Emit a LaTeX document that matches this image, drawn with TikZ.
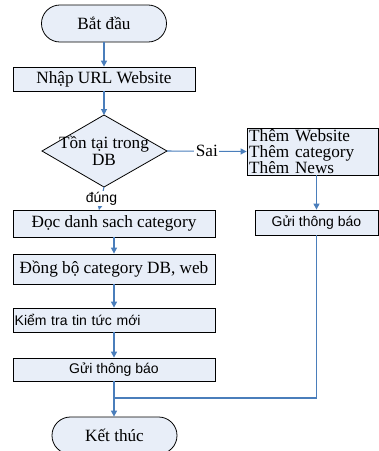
\documentclass[tikz,border=0pt]{standalone}
\usepackage{fontspec}
\setmainfont{Liberation Serif}
\setsansfont{Liberation Sans}
\usetikzlibrary{arrows.meta,shadows}
\definecolor{boxfill}{HTML}{E8EEF8}
\definecolor{flow}{HTML}{4A7EBB}
\begin{document}
\begin{tikzpicture}[x=0.75pt,y=-0.75pt,
 serif/.style={font=\fontsize{12.9}{11.8}\selectfont},
 sans/.style={font=\sffamily\fontsize{10.5}{12}\selectfont},
 procbox/.style={draw=black, line width=0.6pt, fill=boxfill, inner sep=0pt,
   general shadow={shadow xshift=0.9pt, shadow yshift=-0.9pt, fill=black!60}},
 term/.style={draw=black, line width=0.6pt, fill=boxfill, rounded corners=13.8pt,
   minimum width=93.75pt, minimum height=27.75pt, inner sep=0pt},
 flowline/.style={draw=flow, line width=0.8pt},
 flowarrow/.style={flowline, -{Triangle[width=4.5pt,length=4.5pt]}}
]
\useasboundingbox (0,0) rectangle (379,451);

% left column
\node[term, serif] (start) at (104,23.5) {Bắt đầu};
\node[procbox, serif, minimum width=136.5pt, minimum height=18pt] (url) at (104,79) {Nhập URL Website};

\coordinate (dtop) at (104,115);
\coordinate (dright) at (167,151);
\coordinate (dbot) at (104,187);
\coordinate (dleft) at (42,151);
\draw[line width=0.6pt, fill=boxfill] (dleft) -- (dtop) -- (dright) -- (dbot) -- cycle;
\node[serif, align=center, inner sep=0pt] (dtext) at (104,151) {Tồn tại trong\\[1pt]DB};

\node[procbox, serif, minimum width=151.5pt, minimum height=20.25pt] (b1) at (114,223.5) {Đọc danh sach category};
\node[procbox, serif, minimum width=151.5pt, minimum height=22.5pt] (b2) at (114,269) {Đồng bộ category DB, web};
\node[procbox, sans, minimum width=151.5pt, minimum height=18pt, text width=149pt, inner xsep=1.25pt, align=left] (b3) at (114,320) {Kiểm tra tin tức mới};
\node[procbox, sans, minimum width=151.5pt, minimum height=17.25pt] (b4) at (114,369.5) {Gửi thông báo};
\node[term, serif] (end) at (114.5,435.5) {Kết thúc};

% right column
\node[procbox, serif, minimum width=98.25pt, minimum height=35.25pt, text width=95pt, inner xsep=1.6pt, align=left] (rb1) at (312.5,151.5) {Thêm Website\\Thêm category\\Thêm News};
\node[procbox, sans, minimum width=92.25pt, minimum height=18.75pt] (rb2) at (316.5,222.5) {Gửi thông báo};

% connectors
\coordinate (dtip) at (99,210);
\coordinate (join) at (114,398);
\draw[flowarrow] (start.south) -- (url.north);
\draw[flowarrow] (url.south) -- (dtop);
\draw[flowarrow] (dright) -- node[fill=white, serif, inner sep=1pt] (sai) {Sai} (rb1.west);
\draw[flowarrow] (dbot) -- node[fill=white, sans, inner sep=1pt] (dung) {đúng} (dtip);
\draw[flowarrow] (b1.south) -- (b2.north);
\draw[flowarrow] (b2.south) -- (b3.north);
\draw[flowarrow] (b3.south) -- (b4.north);
\draw[flowarrow] (b4.south) -- (end.north -| b4.south);
\draw[flowarrow] (rb2.north |- rb1.south) -- (rb2.north);
\draw[flowline] (rb2.south) |- (join);
\end{tikzpicture}
\end{document}
